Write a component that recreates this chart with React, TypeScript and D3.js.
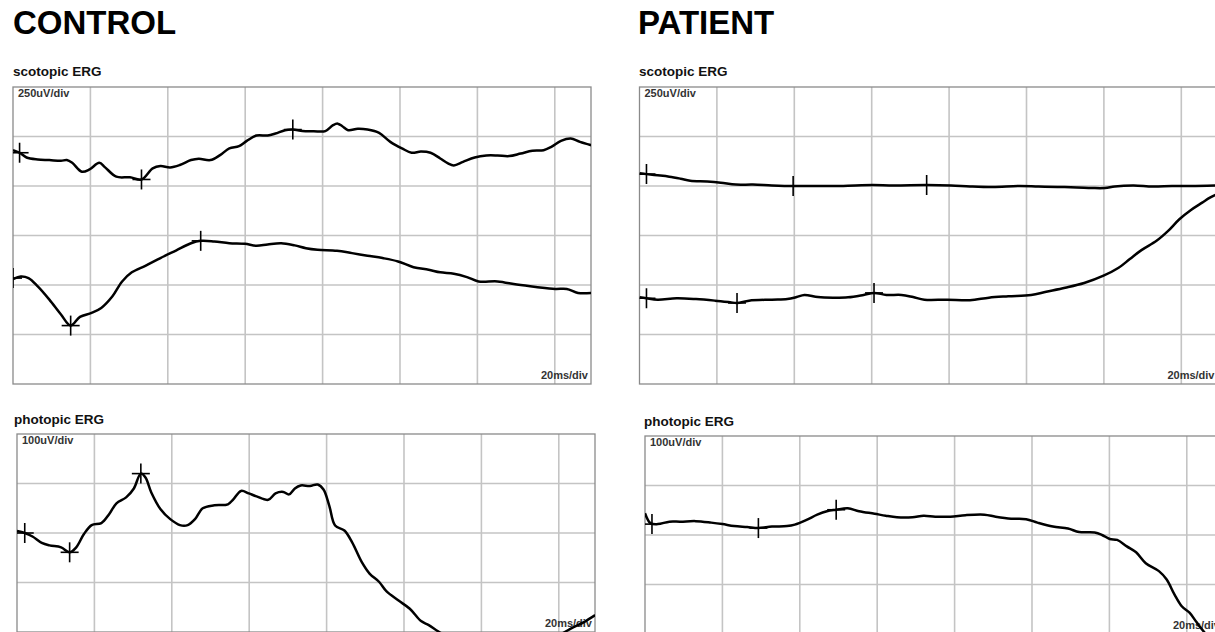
import React, { useRef, useEffect } from 'react';
import * as d3 from 'd3';

// time in ms, amplitude in uV (0 = third grid line from the top of each panel)
const controlScotopicA: [number, number][] = [
  [0, 431], [1.7, 418], [3.5, 394], [6.4, 384], [9.4, 381], [12.4, 377], [13.9, 381], [15.3, 367],
  [17.8, 322], [19.8, 334], [22.3, 367], [23.8, 344], [26.7, 297], [30.2, 294], [33.2, 283],
  [36.1, 339], [38.1, 351], [40.6, 344], [43.1, 356], [46.0, 381], [48.0, 388], [51.0, 381],
  [53.5, 406], [55.9, 440], [58.4, 451], [60.4, 478], [62.9, 505], [65.8, 505], [67.8, 515],
  [70.3, 532], [72.3, 535], [74.8, 528], [77.7, 527], [80.7, 527], [82.7, 557], [83.9, 565],
  [85.1, 552], [86.6, 532], [89.1, 539], [91.6, 535], [94.6, 518], [97.5, 473], [100.5, 440],
  [103.0, 418], [105.4, 424], [107.9, 418], [110.4, 389], [112.4, 364], [113.9, 354], [116.3, 372],
  [119.3, 394], [122.3, 404], [125.2, 404], [128.2, 401], [131.2, 414], [134.2, 428], [137.1, 431],
  [139.1, 448], [141.6, 478], [144.1, 490], [146.5, 473], [149.4, 456],
];
const controlScotopicB: [number, number][] = [
  [0, -220], [2.0, -207], [4.0, -215], [6.4, -257], [9.4, -324], [12.4, -399], [14.9, -455],
  [17.3, -411], [20.3, -391], [22.8, -366], [25.7, -307], [28.2, -232], [30.7, -186], [34.2, -153],
  [38.1, -114], [42.1, -76], [46.0, -39], [48.5, -27], [52.0, -30], [55.9, -39], [59.9, -42],
  [62.9, -52], [65.8, -45], [69.3, -39], [72.8, -50], [75.7, -64], [78.7, -72], [83.7, -77],
  [87.6, -89], [91.6, -102], [95.5, -114], [99.5, -131], [103.5, -160], [107.4, -173], [110.4, -186],
  [113.9, -193], [117.3, -210], [120.3, -232], [125.2, -232], [130.2, -248], [135.1, -260],
  [140.1, -270], [143.1, -270], [146.0, -290], [149.4, -290],
];
const controlScotopicMarks: [number, number][] = [
  [1.7, 418], [33.2, 283], [72.3, 535], [0, -215], [14.9, -455], [48.5, -27],
];

const controlPhotopic: [number, number][] = [
  [0, 104], [2.0, 100], [4.0, 93], [6.4, 80], [8.4, 75], [11.4, 71], [13.6, 61], [15.3, 71],
  [17.3, 98], [19.3, 116], [21.8, 120], [23.8, 138], [25.7, 160], [28.2, 172], [30.2, 190],
  [32.0, 220], [33.2, 212], [34.7, 182], [37.1, 148], [39.6, 128], [42.1, 116], [44.1, 116],
  [46.0, 128], [48.0, 150], [51.0, 156], [54.5, 158], [55.9, 168], [57.9, 185], [59.9, 180],
  [61.9, 174], [64.9, 167], [66.8, 180], [68.8, 183], [70.3, 178], [71.8, 190], [73.3, 196],
  [75.7, 195], [77.7, 198], [79.2, 188], [80.7, 155], [82.2, 115], [84.6, 105], [86.6, 81],
  [89.1, 41], [91.1, 18], [93.6, 1], [95.5, -18], [98.5, -36], [101.5, -53], [104.4, -78],
  [106.4, -86], [108.9, -99], [114, -122], [120, -138], [127, -145], [134, -135], [139, -112],
  [143.1, -93], [146.5, -80], [149.4, -66],
];
const controlPhotopicMarks: [number, number][] = [[2.0, 100], [13.6, 61], [32.0, 220]];

const patientScotopicA: [number, number][] = [
  [0, 314], [1.8, 310], [4.7, 304], [7.7, 297], [10.6, 287], [13.1, 277], [17.5, 273], [21.0, 267],
  [24.9, 257], [29.3, 257], [34.2, 253], [39.7, 250], [44.1, 250], [50.0, 250], [55.9, 253],
  [60.3, 255], [65.7, 253], [74.2, 255], [80.5, 253], [85.4, 248], [91.3, 245], [98.2, 250],
  [103.1, 247], [108.0, 245], [113.0, 243], [116.9, 240], [120.3, 240], [122.8, 248], [127.7, 253],
  [132.6, 247], [137.6, 250], [142.5, 250], [149.4, 253],
];
const patientScotopicB: [number, number][] = [
  [0, -312], [1.8, -317], [4.7, -324], [9.6, -317], [14.6, -321], [19.5, -329], [23.4, -337],
  [25.2, -341], [28.3, -329], [34.2, -324], [38.2, -321], [40.6, -311], [42.6, -300], [46.1, -311],
  [50.0, -314], [53.9, -312], [57.9, -300], [60.6, -290], [63.8, -300], [67.7, -300], [70.7, -311],
  [73.6, -324], [79.5, -324], [85.4, -327], [90.3, -314], [95.3, -307], [101.2, -300], [105.1, -284],
  [110.0, -264], [114.9, -240], [119.9, -203], [123.8, -163], [126.7, -119], [129.7, -74],
  [133.6, -27], [136.6, 23], [139.5, 82], [142.5, 129], [145.4, 166], [147.4, 191], [149.4, 210],
];
const patientScotopicMarks: [number, number][] = [
  [1.8, 310], [39.7, 250], [74.2, 255], [1.8, -317], [25.2, -341], [60.6, -290],
];

const patientPhotopic: [number, number][] = [
  [0, 144], [1.4, 124], [3.3, 122], [6.3, 127], [9.2, 127], [13.1, 128], [17.1, 125], [20.0, 122],
  [23.0, 118], [26.4, 116], [29.3, 114], [32.8, 117], [36.7, 118], [38.7, 121], [41.6, 130],
  [44.5, 141], [47.0, 148], [49.4, 151], [52.4, 154], [55.3, 148], [59.3, 143], [62.2, 139],
  [65.1, 136], [69.1, 136], [72.0, 139], [75.0, 137], [78.9, 137], [82.8, 140], [87.7, 141],
  [90.6, 137], [94.6, 133], [98.5, 132], [101.4, 125], [105.4, 117], [109.3, 113], [112.2, 106],
  [116.2, 105], [118.1, 100], [120.1, 92], [122.0, 90], [124.5, 77], [126.9, 65], [129.4, 43],
  [132.8, 27], [134.8, 10], [136.8, -20], [138.7, -44], [140.7, -57], [142.6, -77], [144.6, -97],
  [148.0, -125],
];
const patientPhotopicMarks: [number, number][] = [[1.8, 122], [29.3, 114], [49.4, 151]];

const headings = ['CONTROL', 'PATIENT'];
const panelTitles = ['scotopic ERG', 'photopic ERG'];
const scaleLabels = ['250uV/div', '100uV/div'];
const uvPerDiv = [250, 100];
const rowsPerPanel = [6, 4];
const msPerDiv = 20;
const timeLabel = '20ms/div';

const FONT = 'Arial, "Liberation Sans", Helvetica, sans-serif';

export default function App() {
  const ref = useRef<SVGSVGElement>(null);

  useEffect(() => {
    const panelW = 578;
    const cellH = 49.5;
    const divs = panelW / 77.4;

    const panels = [
      { x: 13, y: 87, titleX: 13, titleY: 76, kind: 0, series: [controlScotopicA, controlScotopicB], marks: controlScotopicMarks },
      { x: 17, y: 434, titleX: 14, titleY: 424, kind: 1, series: [controlPhotopic], marks: controlPhotopicMarks },
      { x: 639.5, y: 87, titleX: 639, titleY: 76, kind: 0, series: [patientScotopicA, patientScotopicB], marks: patientScotopicMarks },
      { x: 645, y: 436, titleX: 644, titleY: 426, kind: 1, series: [patientPhotopic], marks: patientPhotopicMarks },
    ];

    const svg = d3.select(ref.current);
    svg.selectAll('*').remove();

    svg.append('rect').attr('width', 1215).attr('height', 632).attr('fill', '#fff');

    svg.selectAll('.heading')
      .data(headings)
      .enter()
      .append('text')
      .attr('class', 'heading')
      .attr('x', (d, i) => (i === 0 ? 13 : 638))
      .attr('y', 34)
      .attr('font-family', FONT)
      .attr('font-weight', 'bold')
      .attr('font-size', 33)
      .attr('fill', '#000')
      .text(d => d);

    const x = d3.scaleLinear().domain([0, divs * msPerDiv]).range([0, panelW]);

    panels.forEach((p, pi) => {
      const uv = uvPerDiv[p.kind];
      const rows = rowsPerPanel[p.kind];
      const panelH = rows * cellH;
      const y = d3.scaleLinear().domain([(3 - rows) * uv, 3 * uv]).range([panelH, 0]);

      svg.append('text')
        .attr('x', p.titleX)
        .attr('y', p.titleY)
        .attr('font-family', FONT)
        .attr('font-weight', 'bold')
        .attr('font-size', 13.5)
        .attr('fill', '#111')
        .text(panelTitles[p.kind]);

      const clipId = 'clip' + pi;
      svg.append('clipPath').attr('id', clipId)
        .append('rect').attr('x', 0).attr('y', 0).attr('width', panelW).attr('height', panelH);

      const g = svg.append('g').attr('transform', `translate(${p.x},${p.y})`);

      // grid
      g.append('g')
        .selectAll('line')
        .data(d3.range(msPerDiv, divs * msPerDiv, msPerDiv))
        .enter()
        .append('line')
        .attr('x1', d => x(d)).attr('x2', d => x(d))
        .attr('y1', 0).attr('y2', panelH)
        .attr('stroke', '#c4c4c4').attr('stroke-width', 1.6);

      g.append('g')
        .selectAll('line')
        .data(d3.range(4 - rows, 3).map(k => k * uv))
        .enter()
        .append('line')
        .attr('x1', 0).attr('x2', panelW)
        .attr('y1', d => y(d)).attr('y2', d => y(d))
        .attr('stroke', '#c4c4c4').attr('stroke-width', 1.6);

      g.append('rect')
        .attr('width', panelW).attr('height', panelH)
        .attr('fill', 'none').attr('stroke', '#8a8a8a').attr('stroke-width', 1.3);

      g.append('text')
        .attr('x', 5).attr('y', 10)
        .attr('font-family', FONT).attr('font-weight', 'bold').attr('font-size', 11).attr('fill', '#333')
        .text(scaleLabels[p.kind]);

      g.append('text')
        .attr('x', panelW - 3).attr('y', panelH - 5)
        .attr('text-anchor', 'end')
        .attr('font-family', FONT).attr('font-weight', 'bold').attr('font-size', 11).attr('fill', '#333')
        .text(timeLabel);

      const line = d3.line<[number, number]>()
        .x(d => x(d[0]))
        .y(d => y(d[1]))
        .curve(d3.curveCatmullRom.alpha(0.5));

      const traces = g.append('g').attr('clip-path', `url(#${clipId})`);
      traces.selectAll('path')
        .data(p.series)
        .enter()
        .append('path')
        .attr('d', d => line(d))
        .attr('fill', 'none')
        .attr('stroke', '#000')
        .attr('stroke-width', 2.5)
        .attr('stroke-linejoin', 'round');

      const m = traces.append('g').selectAll('g')
        .data(p.marks)
        .enter()
        .append('g')
        .attr('transform', d => `translate(${x(d[0])},${y(d[1])})`);
      m.append('line').attr('x1', 0).attr('x2', 0).attr('y1', -10).attr('y2', 10)
        .attr('stroke', '#000').attr('stroke-width', 1.6);
      m.append('line').attr('x1', -9).attr('x2', 9).attr('y1', 0).attr('y2', 0)
        .attr('stroke', '#000').attr('stroke-width', 1.6);
    });
  }, []);

  return (
    <div>
      <style>{'body{margin:0;overflow:hidden}'}</style>
      <svg ref={ref} width={1215} height={632} style={{ display: 'block' }} />
    </div>
  );
}
